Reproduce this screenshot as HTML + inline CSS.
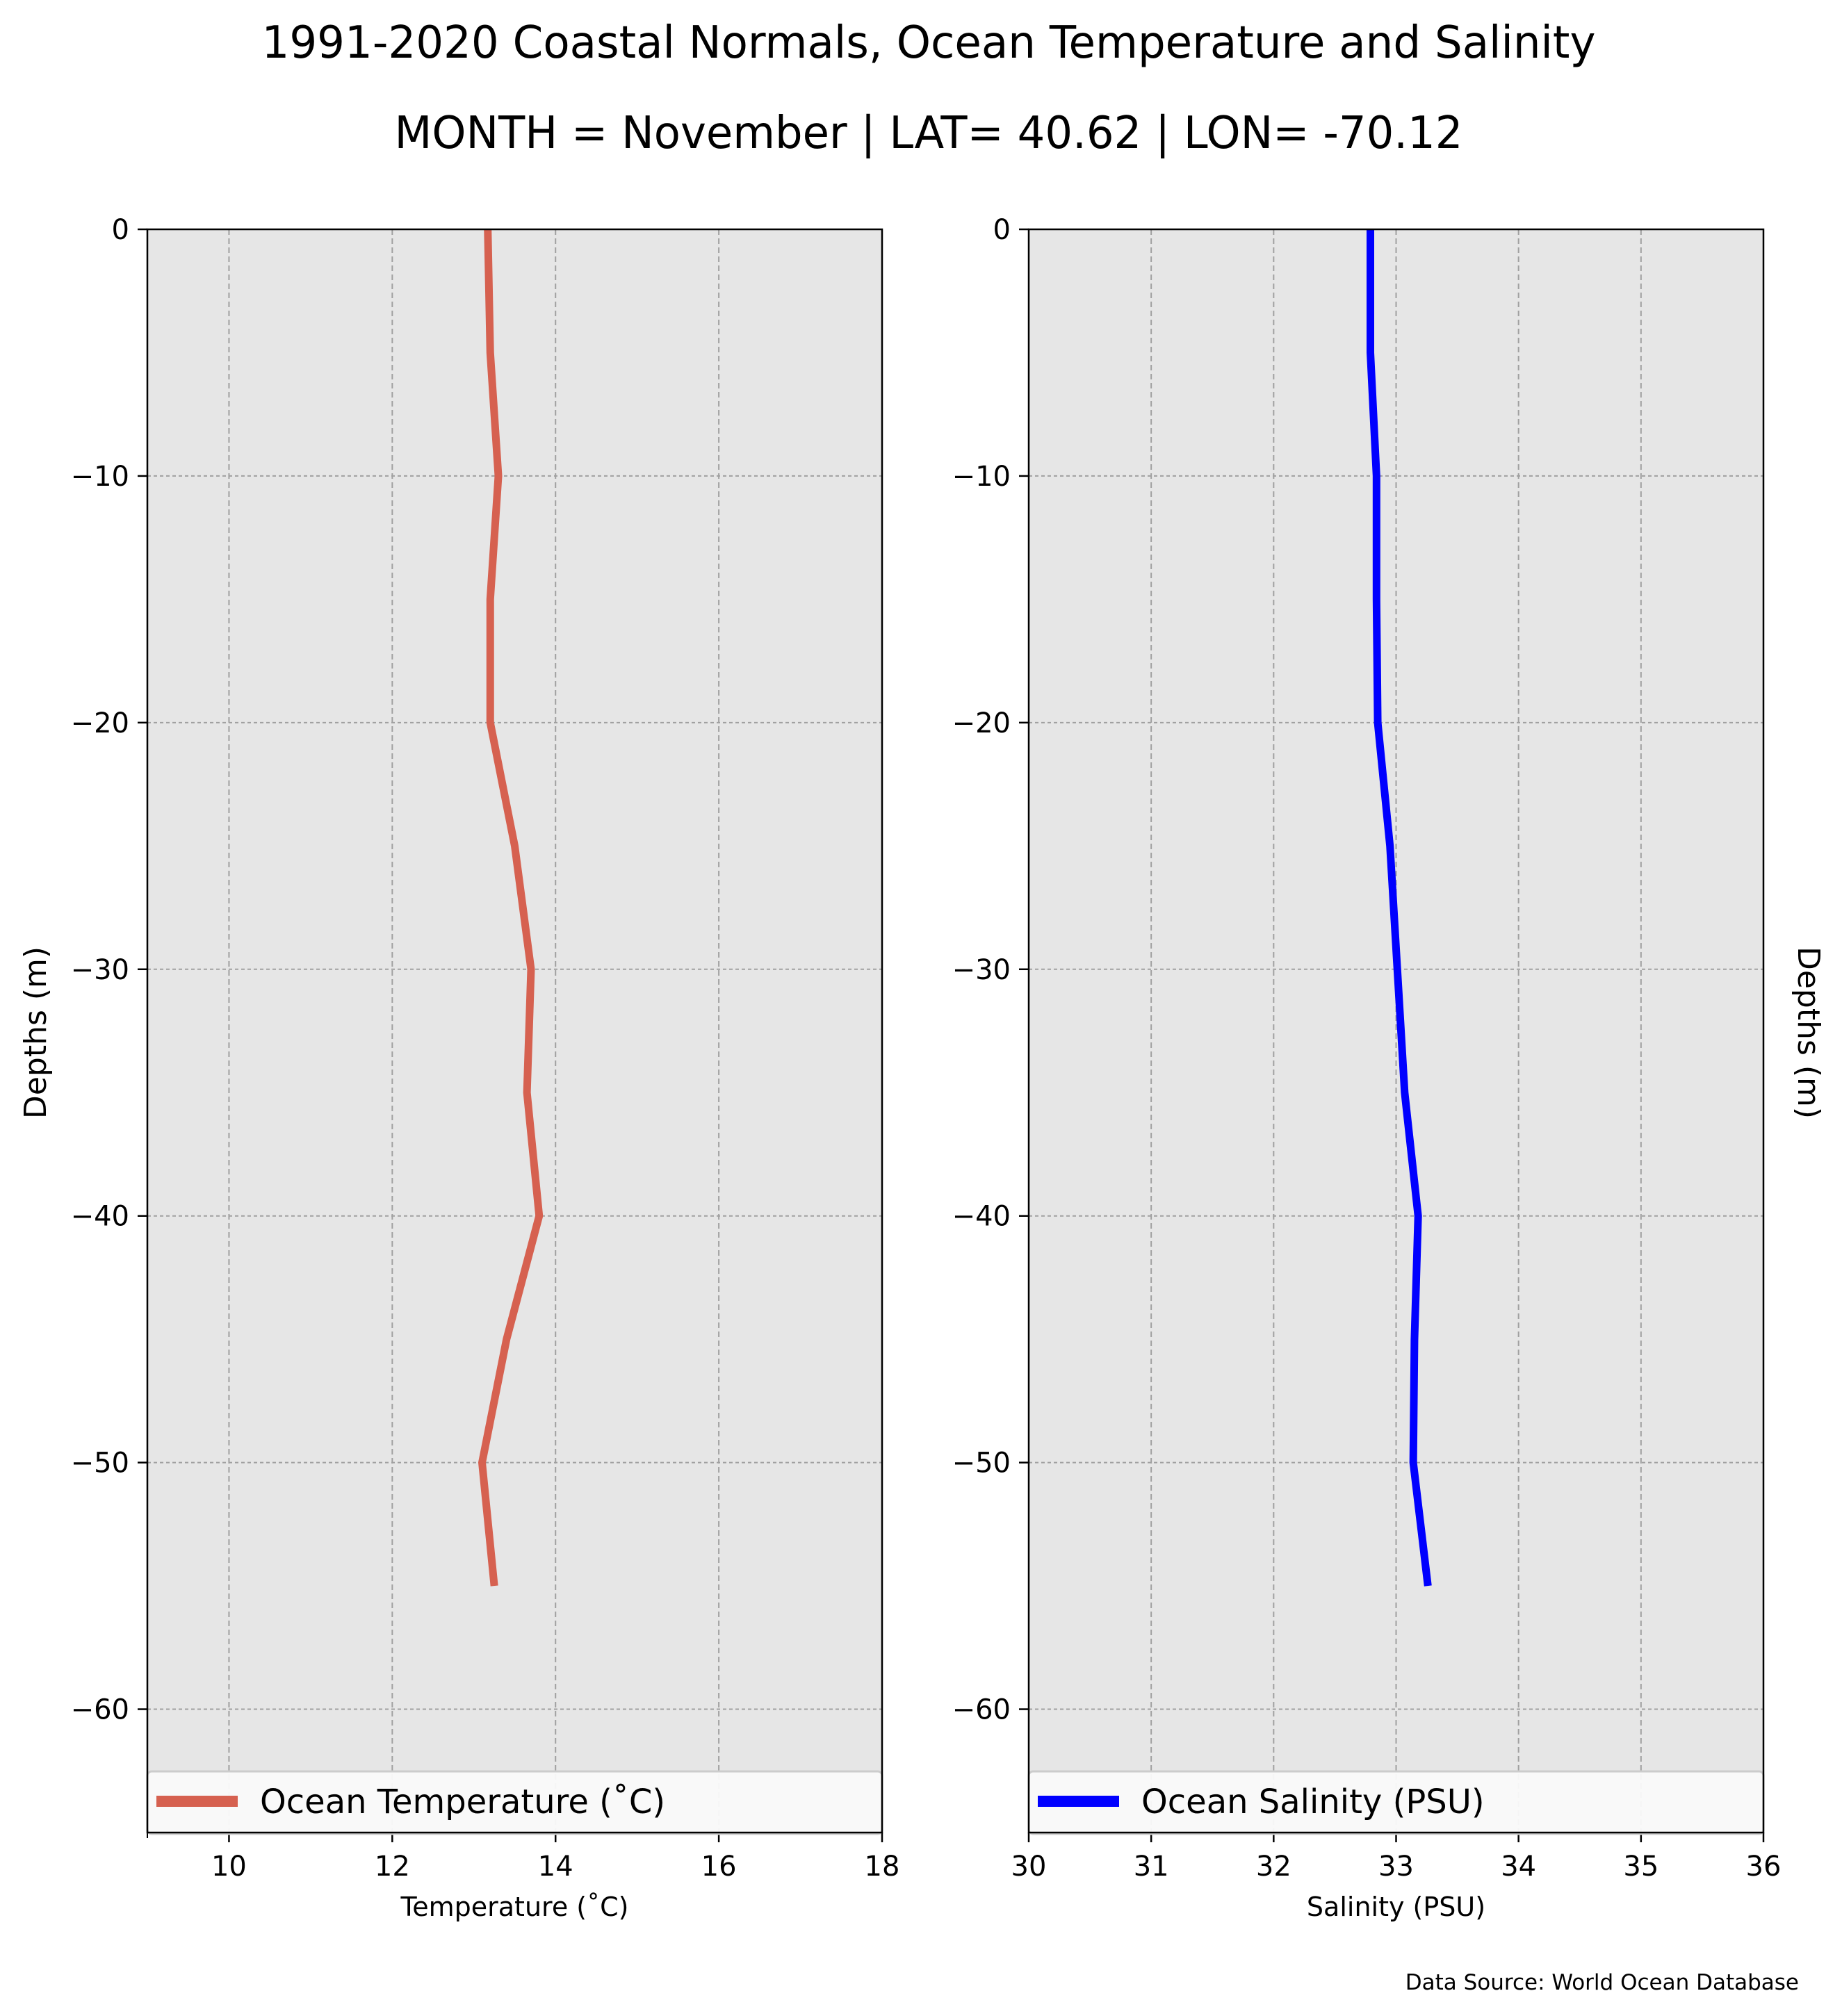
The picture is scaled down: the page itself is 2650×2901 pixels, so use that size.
<!DOCTYPE html>
<html><head><meta charset="utf-8"><style>
html,body{margin:0;padding:0;background:#fff;}
svg{display:block;font-family:"DejaVu Sans","Liberation Sans",sans-serif;}
</style></head><body>
<svg id="fig" width="2650" height="2901" viewBox="0 0 2650 2901">
<text x="1336" y="83" font-size="64" text-anchor="middle" textLength="1919" lengthAdjust="spacingAndGlyphs">1991-2020 Coastal Normals, Ocean Temperature and Salinity</text>
<text x="1336" y="213" font-size="64" text-anchor="middle" textLength="1537" lengthAdjust="spacingAndGlyphs">MONTH = November | LAT= 40.62 | LON= -70.12</text>
<g id="p1"></g><g id="p2"></g>
<text x="0" y="0" font-size="44" text-anchor="middle" transform="translate(66,1486) rotate(-90)">Depths (m)</text>
<text x="0" y="0" font-size="44" text-anchor="middle" transform="translate(2587,1486) rotate(90)">Depths (m)</text>
<text x="2588" y="2863" font-size="31" text-anchor="end">Data Source: World Ocean Database</text>
</svg>
<script>
const depths=[0,-5,-10,-15,-20,-25,-30,-35,-40,-45,-50,-55];
const temperature=[13.17,13.2,13.3,13.2,13.2,13.5,13.7,13.65,13.8,13.4,13.1,13.25];
const salinity=[32.79,32.79,32.84,32.84,32.85,32.95,33.01,33.07,33.18,33.15,33.14,33.26];
const yTicks=[0,-10,-20,-30,-40,-50,-60];
const tempTicks=[10,12,14,16,18];
const salTicks=[30,31,32,33,34,35,36];
const NS="http://www.w3.org/2000/svg";
function mk(parent,tag,attrs){const e=document.createElementNS(NS,tag);for(const k in attrs)e.setAttribute(k,attrs[k]);parent.appendChild(e);return e;}
const axTop=330,axBot=2637;
const ymin=-65,ymax=0;
function ys(v){return axTop+(ymax-v)/(ymax-ymin)*(axBot-axTop);}
function panel(g,x0,x1,xmin,xmax,xticks,minorTick,vals,color,legendText,xlabel,pfx){
  const xs=v=>x0+(v-xmin)/(xmax-xmin)*(x1-x0);
  const bg=mk(g,'rect',{x:x0,y:axTop,width:x1-x0,height:axBot-axTop,fill:'#e6e6e6'});
  
  
  xticks.forEach(t=>{
    const l=mk(g,'line',{x1:xs(t),x2:xs(t),y1:axTop,y2:axBot,stroke:'#a0a0a0','stroke-width':2,'stroke-dasharray':'8,5'});
    
    
    const tk=mk(g,'line',{x1:xs(t),x2:xs(t),y1:axBot,y2:axBot+14,stroke:'#000','stroke-width':2.5});
    
    
    const tx=mk(g,'text',{x:xs(t),y:axBot+62,'font-size':40,'text-anchor':'middle'});
    tx.textContent=t;
    
    
  });
  if(minorTick!==null){
    const tk=mk(g,'line',{x1:xs(minorTick),x2:xs(minorTick),y1:axBot,y2:axBot+8,stroke:'#000','stroke-width':2});
    
    
  }
  yTicks.forEach(t=>{
    const l=mk(g,'line',{x1:x0,x2:x1,y1:ys(t),y2:ys(t),stroke:'#a0a0a0','stroke-width':2,'stroke-dasharray':'5,4'});
    
    
    const tk=mk(g,'line',{x1:x0-14,x2:x0,y1:ys(t),y2:ys(t),stroke:'#000','stroke-width':2.5});
    
    
    const tx=mk(g,'text',{x:x0-26,y:ys(t)+14,'font-size':40,'text-anchor':'end'});
    tx.textContent=t===0?'0':'\u2212'+Math.abs(t);
    
    
  });
  const pts=vals.map((v,i)=>xs(v)+','+ys(depths[i])).join(' ');
  const pl=mk(g,'polyline',{points:pts,fill:'none',stroke:color,'stroke-width':11,'stroke-linejoin':'miter'});
  
  
  const lg=mk(g,'g',{});
  
  
  mk(lg,'rect',{x:x0,y:2549,width:x1-x0,height:90,rx:6,fill:'#fafafa','fill-opacity':0.95,stroke:'#cccccc','stroke-width':3});
  const sw=mk(lg,'line',{x1:x0+13,x2:x0+130,y1:2592,y2:2592,stroke:color,'stroke-width':16});
  
  
  const lt=mk(lg,'text',{x:x0+162,y:2609,'font-size':48});
  lt.textContent=legendText;
  
  
  const fr=mk(g,'rect',{x:x0,y:axTop,width:x1-x0,height:axBot-axTop,fill:'none',stroke:'#000','stroke-width':2.5});
  
  
  const xl=mk(g,'text',{x:(x0+x1)/2,y:2757,'font-size':38,'text-anchor':'middle'});
  xl.textContent=xlabel;
  
  
}
const g1=document.getElementById('p1');


panel(g1,212,1269,9,18,tempTicks,9,temperature,'#d66150','Ocean Temperature (\u02daC)','Temperature (\u02daC)','temperature');
const g2=document.getElementById('p2');


panel(g2,1480,2537,30,36,salTicks,null,salinity,'#0000ff','Ocean Salinity (PSU)','Salinity (PSU)','salinity');
</script>
</body></html>
